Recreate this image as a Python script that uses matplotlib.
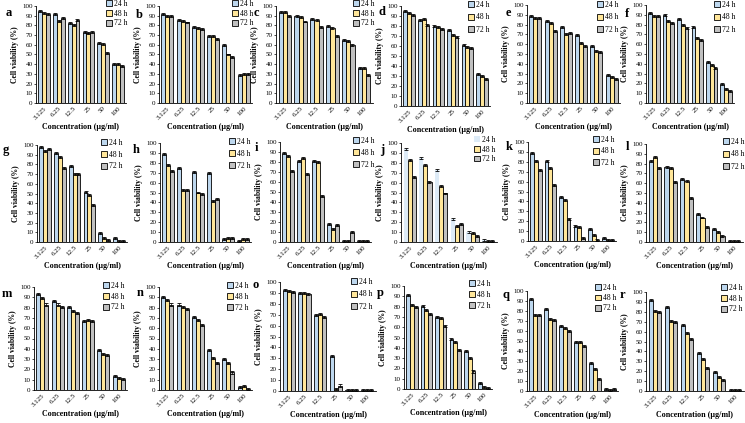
import matplotlib
matplotlib.use("Agg")
import matplotlib.pyplot as plt
import numpy as np

plt.rcParams['font.family'] = ['Liberation Serif', 'DejaVu Serif']

concentrations = ["3.125", "6.25", "12.5", "25", "50", "100"]
series_labels = ["24 h", "48 h", "72 h"]
panel_letters = list("abcdefghijklmnopqr")

# viability (%) per panel: rows = 24 h, 48 h, 72 h
v_a = [[95, 92, 82, 73, 62, 40], [93, 85, 80, 72, 61, 40], [92, 88, 86, 73, 52, 38]]
v_b = [[92, 86, 78, 69, 60, 29], [90, 85, 77, 69, 50, 30], [90, 83, 76, 66, 47, 30]]
v_c = [[94, 90, 87, 79, 65, 36], [94, 89, 86, 77, 64, 36], [90, 84, 78, 69, 60, 29]]
v_d = [[95, 86, 80, 76, 61, 32], [93, 87, 79, 71, 59, 30], [91, 81, 77, 69, 58, 27]]
v_e = [[89, 84, 78, 69, 58, 29], [87, 82, 70, 61, 53, 27], [87, 73, 71, 58, 52, 24]]
v_f = [[92, 90, 86, 78, 42, 19], [89, 84, 80, 66, 39, 14], [89, 82, 77, 64, 36, 12]]
v_g = [[98, 92, 78, 52, 9, 4], [94, 88, 70, 48, 4, 1], [96, 76, 70, 38, 2, 1]]
v_h = [[89, 75, 71, 70, 3, 1], [78, 53, 50, 41, 4, 3], [72, 53, 48, 43, 4, 3]]
v_i = [[89, 81, 81, 18, 1, 1], [86, 84, 80, 13, 1, 1], [71, 68, 46, 17, 10, 1]]
v_j = [[94, 85, 73, 23, 10, 2], [83, 78, 57, 16, 9, 1], [66, 61, 49, 18, 6, 1]]
v_k = [[89, 81, 44, 15, 12, 3], [81, 74, 41, 14, 6, 1], [72, 57, 22, 3, 1, 1]]
v_l = [[83, 77, 64, 29, 13, 1], [87, 76, 62, 25, 10, 1], [76, 61, 45, 15, 6, 1]]
v_m = [[93, 86, 81, 67, 39, 14], [89, 83, 77, 68, 35, 12], [83, 81, 75, 67, 34, 11]]
v_n = [[90, 83, 71, 39, 30, 3], [87, 81, 68, 31, 26, 4], [83, 79, 63, 26, 17, 1]]
v_o = [[93, 90, 70, 32, 1, 1], [92, 90, 71, 2, 1, 1], [91, 89, 68, 5, 1, 1]]
v_p = [[91, 81, 70, 49, 37, 6], [82, 77, 69, 46, 30, 2], [80, 73, 61, 38, 17, 1]]
v_q = [[92, 82, 65, 49, 28, 2], [76, 72, 63, 49, 22, 1], [76, 71, 60, 45, 12, 2]]
v_r = [[92, 85, 67, 38, 19, 1], [81, 71, 59, 32, 14, 1], [80, 70, 53, 23, 11, 1]]
panel_values = [v_a, v_b, v_c, v_d, v_e, v_f, v_g, v_h, v_i,
                v_j, v_k, v_l, v_m, v_n, v_o, v_p, v_q, v_r]
err = 1.0

W, H = 745, 423
# axes boxes in pixels: left, right, y of 100, y of 0
boxes = [(36, 126, 6, 103), (159, 252, 6, 103), (276, 373, 6, 103),
         (401, 490, 6, 106), (527, 620, 5, 103), (646, 734, 5, 103),
         (37, 127, 145, 242), (160, 251, 143, 242), (280, 371, 142, 242),
         (401, 497, 143, 242), (528, 616, 142, 241), (646, 743, 144, 242),
         (34, 127, 287, 390), (159, 252, 287, 390), (280, 376, 282, 391),
         (404, 492, 286, 389), (527, 618, 291, 391), (646, 744, 292, 391)]
# legend top-left (px) and row step (px)
leg_pos = [(106, 0), (232, 0), (353, 0), (468, 1), (597, 1), (714, 1),
           (101, 139), (229, 138), (353, 137), (474, 136), (593, 136), (723, 138),
           (103, 282), (227, 282), (351, 278), (469, 280), (595, 284), (721, 284)]
leg_step = [9.3, 9.3, 9.3, 12, 12, 12,
            11.3, 11.5, 11.5, 9.2, 11, 12,
            10.3, 10.5, 12, 10.5, 9.8, 10.3]
let_pos = [(9, 13), (139, 15), (256, 13), (382, 12), (508, 13), (627, 14),
           (6, 150), (136, 150), (256, 148), (382, 150), (509, 147), (627, 147),
           (7, 294), (140, 293), (256, 285), (380, 293), (506, 295), (622, 295)]

colors = ["#BDD7EE", "#FFE699", "#C0C0C0"]

fig = plt.figure(figsize=(W / 100, H / 100), dpi=100)
x = np.arange(len(concentrations))
bw = 0.26
leg_fs = 5.5
fs_px = leg_fs * 100 / 72

for k, vals in enumerate(panel_values):
    l, r, t, b = boxes[k]
    ax = fig.add_axes([l / W, 1 - b / H, (r - l) / W, (b - t) / H])
    handles = []
    for s in range(3):
        col = colors[s]
        ec = "black"
        if k == 9 and s == 0:
            col, ec = "#DDEBF7", "none"
        bars = ax.bar(x + (s - 1) * bw, vals[s], bw, color=col, edgecolor=ec,
                      linewidth=0.6, label=series_labels[s],
                      yerr=err, error_kw=dict(elinewidth=0.5, capsize=1.2,
                                              capthick=0.6, ecolor="black"))
        handles.append(bars)
    ax.set_ylim(0, 100)
    ax.set_xlim(-0.55, 5.55)
    ax.set_yticks(range(0, 101, 10))
    ax.set_xticks(x)
    ax.set_xticklabels(concentrations, rotation=45, ha="right",
                       rotation_mode="anchor")
    ax.tick_params(axis="both", labelsize=5, length=1.5, width=0.5, pad=1)
    ax.tick_params(axis="x", length=0, pad=2)
    for sp in ["top", "right"]:
        ax.spines[sp].set_visible(False)
    for sp in ["left", "bottom"]:
        ax.spines[sp].set_linewidth(0.6)
    ax.set_ylabel("Cell viability (%)", fontsize=5.5, fontweight="bold", labelpad=2)
    ax.set_xlabel("Concentration (\u00b5g/ml)", fontsize=5.8, fontweight="bold", labelpad=2)
    lx, ly = leg_pos[k]
    ls = max(leg_step[k] / fs_px - 1.0, 0.05)
    ax.legend(handles=handles, loc="upper left",
              bbox_to_anchor=(lx / W, 1 - ly / H), bbox_transform=fig.transFigure,
              frameon=False, fontsize=leg_fs, handlelength=0.8, handleheight=0.8,
              handletextpad=0.2, labelspacing=ls, borderpad=0, borderaxespad=0)
    px, py = let_pos[k]
    fig.text(px / W, 1 - py / H, panel_letters[k], fontsize=9, fontweight="bold",
             ha="center", va="center")

fig.savefig("out.png", dpi=100)
